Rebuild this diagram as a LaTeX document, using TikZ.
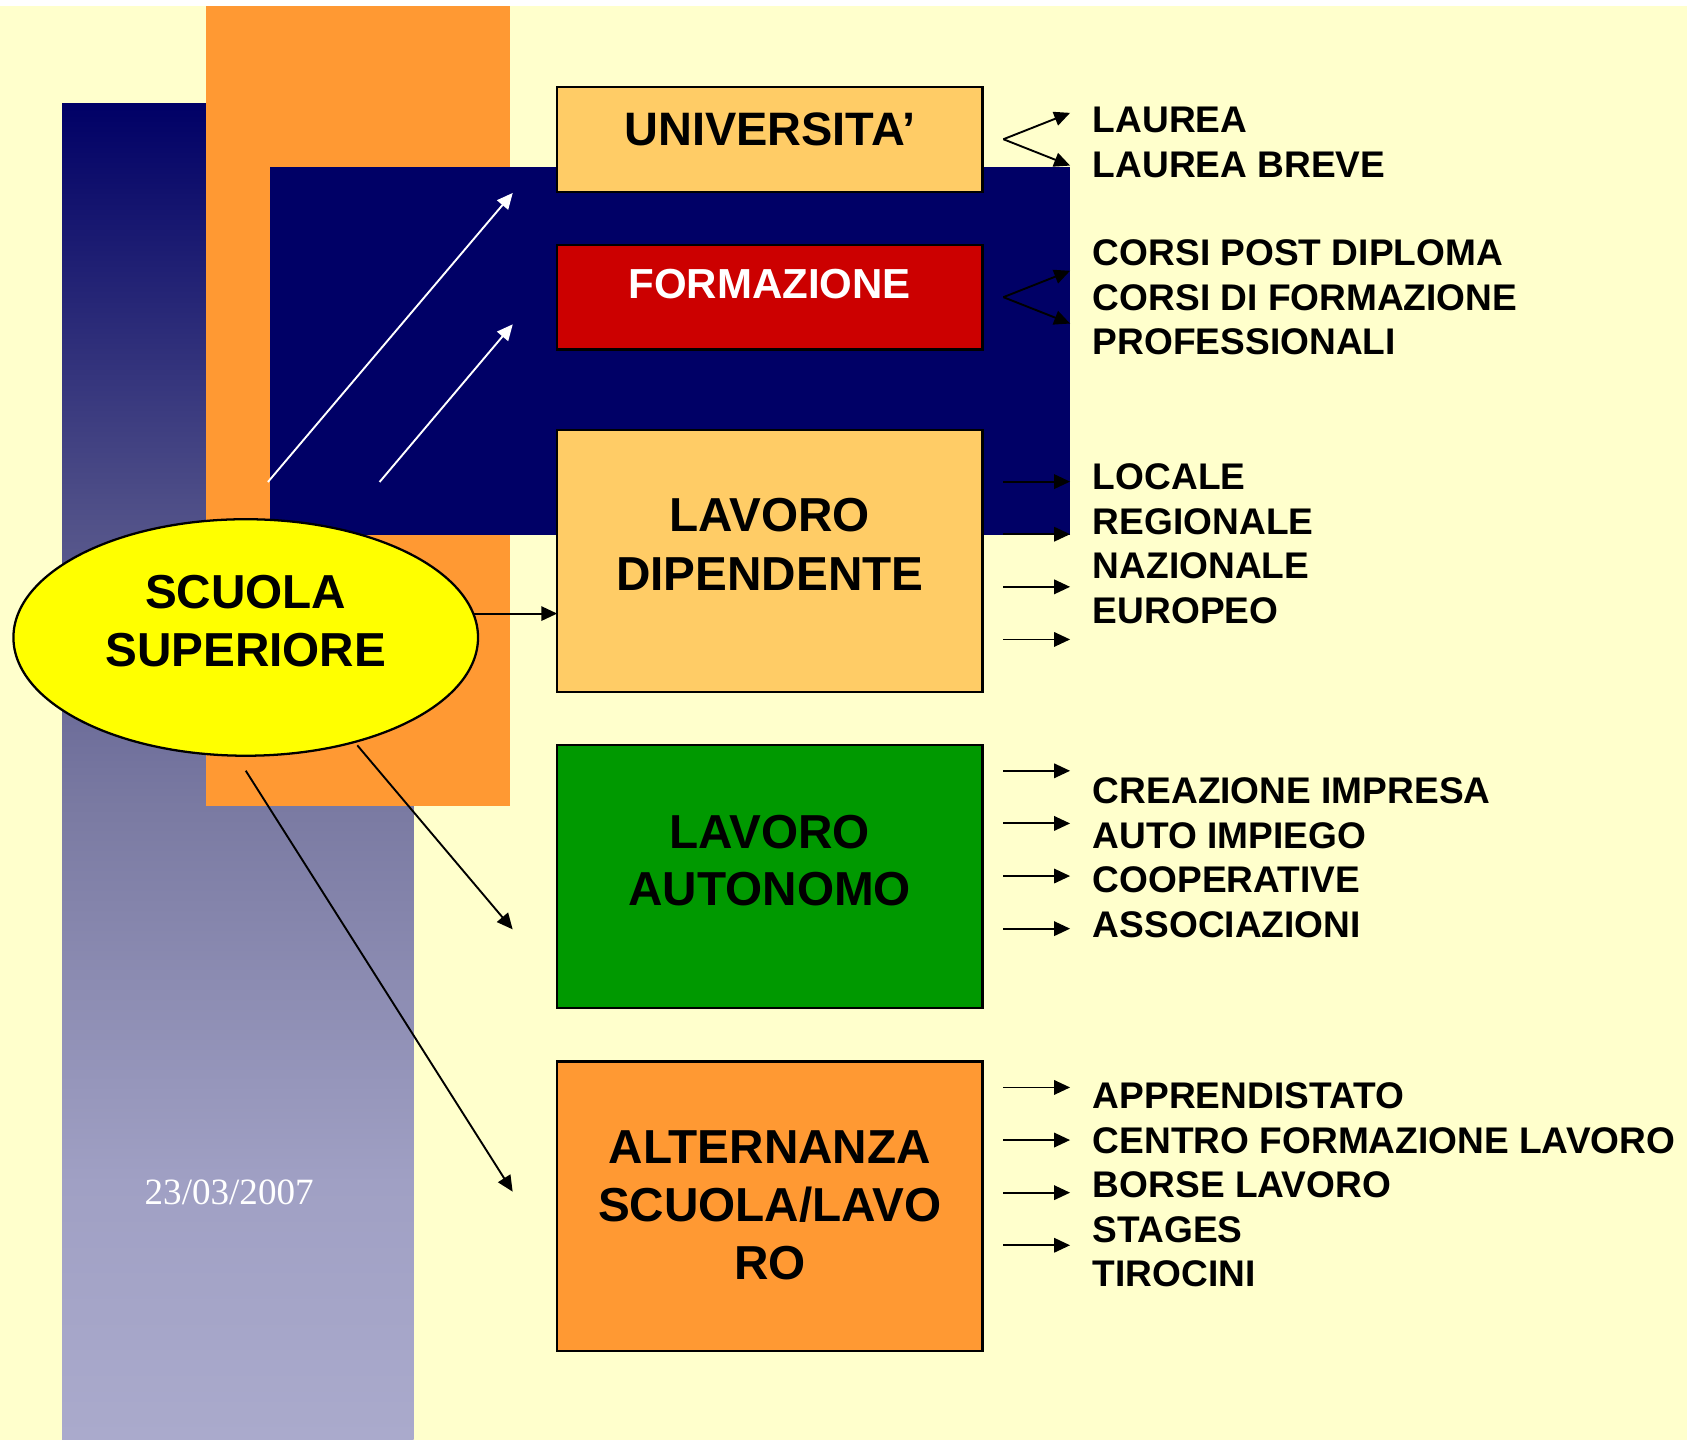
\documentclass[tikz,border=0pt]{standalone}
\usepackage{fontspec}
\setmainfont{Liberation Sans}
\newfontfamily\datafont{Liberation Serif}
\usetikzlibrary{calc}
\usetikzlibrary{arrows.meta}
\usetikzlibrary{shapes.geometric}

\definecolor{sfondo}{RGB}{255,255,204}
\definecolor{arancio}{RGB}{255,153,51}
\definecolor{blunotte}{RGB}{0,0,102}
\definecolor{sabbia}{RGB}{255,204,102}
\definecolor{rosso}{RGB}{204,0,0}
\definecolor{verde}{RGB}{0,153,0}
\definecolor{giallo}{RGB}{255,255,0}
\definecolor{colA}{RGB}{0,0,102}
\definecolor{colB}{RGB}{84,84,138}
\definecolor{colC}{RGB}{122,122,162}
\definecolor{colD}{RGB}{160,160,196}
\definecolor{colE}{RGB}{170,170,204}
\pgfdeclareverticalshading{colonna}{100bp}{color(0bp)=(colE); color(25bp)=(colE); color(34.6bp)=(colD); color(48.7bp)=(colC); color(58.75bp)=(colB); color(75bp)=(colA); color(100bp)=(colA)}

\begin{document}
\begin{tikzpicture}[->,>={Triangle[length=4.2pt,width=3.8pt]},x=0.01cm,y=-0.01cm,line width=0.5pt]
\tikzset{box/.style={draw=black,line width=0.6pt,fill=#1,minimum width=3.95cm,inner sep=0,outer sep=0}}
\tikzset{ovale/.style={ellipse,draw=black,line width=0.6pt,fill=giallo,minimum width=4.316cm,minimum height=2.197cm,inner sep=0,outer sep=0}}
\tikzset{boxtxt/.style={anchor=base,inner sep=0,font=\fontsize{12.6}{15.4}\selectfont\bfseries}}
\tikzset{voce/.style={anchor=base west,inner sep=0,font=\fontsize{9.8}{11.8}\selectfont\bfseries}}

\useasboundingbox (0,0) rectangle (1568,1338);

% sfondo e colonne
\fill[sfondo] (0,0) rectangle (1568,1338);
\fill[white] (0,0) rectangle (1568,5.6);
\shade[shading=colonna] (57.7,96) rectangle (384.4,1338);
\fill[arancio] (191.4,5.6) rectangle (474.2,749.5);
\fill[blunotte] (251.1,155) rectangle (994.5,496.8);

% frecce bianche
\coordinate (w1) at (249,448);
\coordinate (w2) at (352.8,448);
\coordinate (w1e) at (476.6,179.3);
\coordinate (w2e) at (476.6,301.4);
\draw[white] (w1) -- (w1e);
\draw[white] (w2) -- (w2e);

% caselle
\node[box=sabbia,minimum height=0.976cm] (univ) at (715.5,129.4) {};
\node[box=rosso,minimum height=0.97cm] (form) at (715.5,276.2) {};
\node[box=sabbia,minimum height=2.432cm] (dip) at (715.5,521.3) {};
\node[box=verde,minimum height=2.445cm] (auto) at (715.5,814.75) {};
\node[box=arancio,minimum height=2.689cm] (alt) at (715.5,1121.25) {};

\node[boxtxt,font=\fontsize{12.4}{15.4}\selectfont\bfseries] at (715.5,135) {UNIVERSITA’};
\node[boxtxt,text=white,font=\fontsize{11.1}{13.3}\selectfont\bfseries] at (715.5,277.3) {FORMAZIONE};
\foreach \t/\y in {LAVORO/494,DIPENDENTE/548.4,LAVORO/788.5,AUTONOMO/841.8,ALTERNANZA/1081.3,{SCUOLA/LAVO}/1135.5,RO/1189}
  \node[boxtxt] at (715.5,\y) {\t};

% scuola superiore
\node[ovale] (scuola) at (228.4,592.5) {};
\node[boxtxt] at (228.4,565.4) {SCUOLA};
\node[boxtxt] at (228.4,619.6) {SUPERIORE};

\coordinate (a2) at (476.5,863.8);
\coordinate (a3) at (476.5,1107.6);
\draw (scuola.6) -- (scuola.6 -| dip.west);
\draw ([shift={(3,3)}]scuola.-44) -- (a2);
\draw ($(scuola.south)+(0,13.9)$) -- (a3);

% frecce a destra
\foreach \bx in {univ,form} {
  \coordinate (v) at ($(\bx.east)+(19.5,0)$);
  \draw (v) -- +(62,-24.5);
  \draw (v) -- +(62,24.5);
}
\foreach \bx/\off in {dip/48,auto/24,alt/24}
  \foreach \i in {0,...,3}
    \draw ($(\bx.north east)+(19.5,{\off+48.9*\i})$) -- +(62,0);

% elenchi
\foreach \t [count=\i from 0] in {LAUREA,LAUREA BREVE}
  \node[voce] at (1015,{123.5+41.3*\i}) {\t};
\foreach \t [count=\i from 0] in {CORSI POST DIPLOMA,CORSI DI FORMAZIONE,PROFESSIONALI}
  \node[voce] at (1015,{247+41.3*\i}) {\t};
\foreach \t [count=\i from 0] in {LOCALE,REGIONALE,NAZIONALE,EUROPEO}
  \node[voce] at (1015,{455.4+41.3*\i}) {\t};
\foreach \t [count=\i from 0] in {CREAZIONE IMPRESA,AUTO IMPIEGO,COOPERATIVE,ASSOCIAZIONI}
  \node[voce] at (1015,{747+41.3*\i}) {\t};
\foreach \t [count=\i from 0] in {APPRENDISTATO,CENTRO FORMAZIONE LAVORO,BORSE LAVORO,STAGES,TIROCINI}
  \node[voce] at (1015,{1030.5+41.3*\i}) {\t};

% data
\node[text=white,font=\datafont\fontsize{9.8}{11.8}\selectfont] (data) at (213,1108.5) {23/03/2007};

\end{tikzpicture}
\end{document}
